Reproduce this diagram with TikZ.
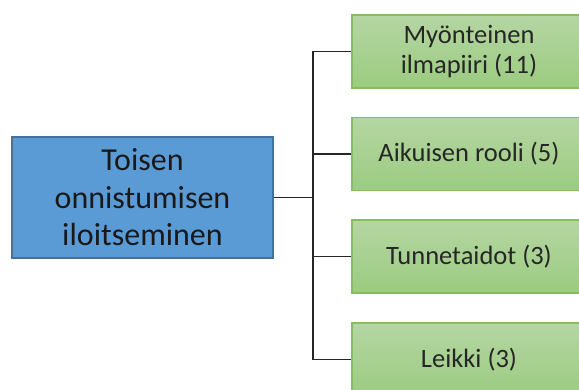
\documentclass[tikz,border=0pt]{standalone}
\usepackage{fontspec}
\setmainfont{Carlito}
\definecolor{topicblue}{HTML}{5B9BD5}
\definecolor{topicedge}{HTML}{41719C}
\definecolor{leaftop}{HTML}{B5D6A3}
\definecolor{leafbottom}{HTML}{9BCB80}
\definecolor{leafedge}{HTML}{86BD63}
\begin{document}
\begin{tikzpicture}[x=1pt,y=1pt,
    topicbox/.style={draw=topicedge, line width=1.5pt, fill=topicblue,
      minimum width=261pt, minimum height=121pt, align=center,
      text=black!90, font=\fontsize{32}{37.5}\selectfont},
    leafbox/.style={draw=leafedge, line width=1.2pt, top color=leaftop,
      bottom color=leafbottom, minimum width=234pt, minimum height=73pt,
      align=center, text=black!85, font=\fontsize{26.5}{30.5}\selectfont},
    branch/.style={draw=black!85, line width=1.1pt}]
    \useasboundingbox (0,0) rectangle (579,390);
    \clip (0,0) rectangle (579,390);
    \node[topicbox] (topic) at (142.5,192.5) {Toisen\\onnistumisen\\iloitseminen};
    \node[leafbox] (ilmapiiri) at (469,338.5) {Myönteinen\\ilmapiiri (11)};
    \node[leafbox] (rooli) at (469,236) {Aikuisen rooli (5)};
    \node[leafbox] (taidot) at (469,133.5) {Tunnetaidot (3)};
    \node[leafbox] (leikki) at (469,30.5) {Leikki (3)};
    \coordinate (split) at (313,192.5);
    % tree lines
    \draw[branch, line width=1.8pt] (topic.east) -- (split);
    \draw[branch] (ilmapiiri.west) -| (split) |- (leikki.west);
    \draw[branch] (rooli.west) -- (split |- rooli.west);
    \draw[branch] (taidot.west) -- (split |- taidot.west);
\end{tikzpicture}
\end{document}
